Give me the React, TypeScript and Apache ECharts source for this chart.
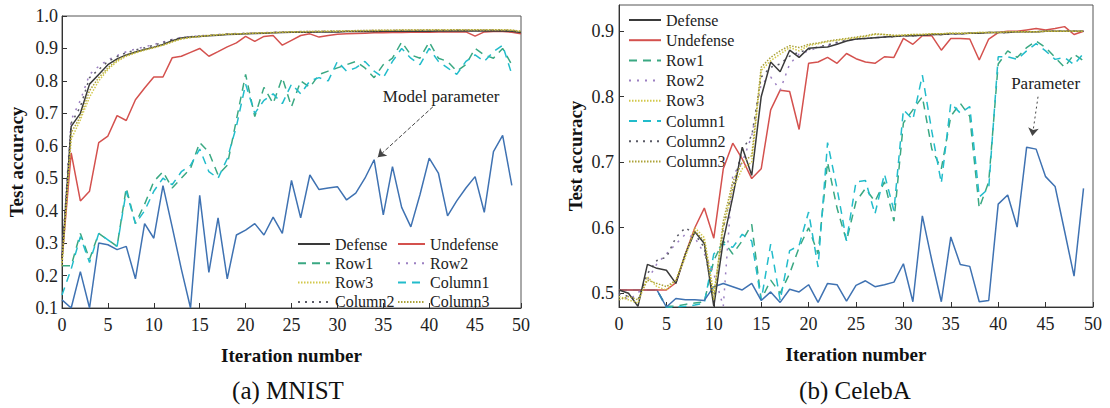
import React, { useEffect, useRef } from "react";
import * as echarts from "echarts";

// ---------- (a) MNIST ----------
const mnistDefense = [
  0.25, 0.66, 0.70, 0.79, 0.82, 0.85, 0.868, 0.88, 0.889, 0.897,
  0.904, 0.912, 0.924, 0.932, 0.935, 0.937, 0.939, 0.941, 0.943, 0.944,
  0.945, 0.946, 0.947, 0.948, 0.949, 0.95, 0.95, 0.95, 0.951, 0.951,
  0.951, 0.952, 0.952, 0.952, 0.952, 0.953, 0.953, 0.953, 0.953, 0.953,
  0.953, 0.954, 0.954, 0.954, 0.954, 0.954, 0.954, 0.954, 0.954, 0.953, 0.949,
];
const mnistUndefense = [
  0.25, 0.578, 0.43, 0.46, 0.61, 0.63, 0.693, 0.678, 0.742, 0.778,
  0.812, 0.812, 0.871, 0.876, 0.888, 0.90, 0.876, 0.89, 0.905, 0.917,
  0.937, 0.922, 0.937, 0.94, 0.91, 0.925, 0.94, 0.945, 0.935, 0.94,
  0.944, 0.945, 0.946, 0.947, 0.948, 0.948, 0.949, 0.949, 0.95, 0.95,
  0.95, 0.951, 0.951, 0.951, 0.951, 0.938, 0.951, 0.952, 0.952, 0.95, 0.945,
];
const mnistRow1 = [
  0.23, 0.23, 0.33, 0.25, 0.33, 0.31, 0.29, 0.47, 0.36, 0.42,
  0.49, 0.52, 0.47, 0.50, 0.53, 0.61, 0.58, 0.51, 0.54, 0.68,
  0.82, 0.69, 0.78, 0.73, 0.81, 0.72, 0.80, 0.78, 0.82, 0.83,
  0.84, 0.85, 0.86, 0.84, 0.81, 0.85, 0.87, 0.92, 0.88, 0.87,
  0.92, 0.87, 0.86, 0.83, 0.85, 0.90, 0.88, 0.87, 0.90, 0.85,
];
const mnistRow2 = [
  0.27, 0.68, 0.74, 0.82, 0.845, 0.865, 0.878, 0.89, 0.898, 0.905,
  0.912, 0.92, 0.928, 0.934, 0.937, 0.939, 0.941, 0.943, 0.945, 0.946,
  0.947, 0.948, 0.949, 0.95, 0.951, 0.951, 0.952, 0.952, 0.953, 0.953,
  0.953, 0.954, 0.954, 0.955, 0.955, 0.955, 0.956, 0.955, 0.956, 0.956,
  0.957, 0.956, 0.956, 0.957, 0.957, 0.956, 0.957, 0.957, 0.956, 0.956, 0.952,
];
const mnistRow3 = [
  0.24, 0.62, 0.68, 0.75, 0.80, 0.835, 0.86, 0.876, 0.886, 0.895,
  0.902, 0.91, 0.92, 0.929, 0.934, 0.937, 0.94, 0.942, 0.944, 0.945,
  0.946, 0.947, 0.948, 0.949, 0.95, 0.951, 0.951, 0.952, 0.952, 0.953,
  0.953, 0.954, 0.954, 0.955, 0.955, 0.956, 0.956, 0.957, 0.957, 0.957,
  0.958, 0.958, 0.958, 0.958, 0.958, 0.958, 0.958, 0.958, 0.958, 0.957, 0.953,
];
const mnistColumn1 = [
  0.14, 0.22, 0.32, 0.24, 0.33, 0.31, 0.29, 0.46, 0.36, 0.40,
  0.46, 0.50, 0.48, 0.52, 0.54, 0.59, 0.52, 0.50, 0.56, 0.66,
  0.79, 0.70, 0.74, 0.76, 0.73, 0.79, 0.76, 0.80, 0.81, 0.80,
  0.86, 0.83, 0.84, 0.86, 0.83, 0.81, 0.86, 0.90, 0.87, 0.85,
  0.90, 0.86, 0.84, 0.82, 0.86, 0.88, 0.86, 0.89, 0.91, 0.82,
];
const mnistColumn2 = [
  0.26, 0.67, 0.72, 0.81, 0.835, 0.86, 0.875, 0.887, 0.895, 0.902,
  0.91, 0.918, 0.927, 0.933, 0.936, 0.938, 0.94, 0.942, 0.944, 0.945,
  0.946, 0.947, 0.948, 0.949, 0.95, 0.95, 0.951, 0.951, 0.952, 0.952,
  0.952, 0.953, 0.953, 0.953, 0.954, 0.954, 0.954, 0.955, 0.955, 0.955,
  0.955, 0.956, 0.955, 0.956, 0.956, 0.955, 0.956, 0.956, 0.955, 0.955, 0.951,
];
const mnistColumn3 = [
  0.23, 0.64, 0.69, 0.77, 0.81, 0.84, 0.864, 0.879, 0.888, 0.896,
  0.903, 0.911, 0.921, 0.93, 0.934, 0.937, 0.94, 0.942, 0.944, 0.945,
  0.946, 0.947, 0.948, 0.949, 0.95, 0.951, 0.952, 0.952, 0.953, 0.953,
  0.954, 0.954, 0.955, 0.955, 0.956, 0.956, 0.956, 0.957, 0.957, 0.957,
  0.957, 0.957, 0.957, 0.958, 0.957, 0.958, 0.957, 0.958, 0.957, 0.956, 0.952,
];
const mnistParam = [
  0.125, 0.10, 0.212, 0.10, 0.30, 0.295, 0.28, 0.29, 0.19, 0.36,
  0.315, 0.477, 0.35, 0.22, 0.10, 0.447, 0.21, 0.378, 0.19, 0.325,
  0.34, 0.36, 0.325, 0.38, 0.33, 0.493, 0.378, 0.51, 0.465, 0.47,
  0.474, 0.433, 0.454, 0.50, 0.557, 0.387, 0.536, 0.41, 0.35, 0.45,
  0.562, 0.516, 0.384, 0.43, 0.47, 0.505, 0.395, 0.582, 0.632, 0.478,
];
const mnistArrow = [[40.4, 0.72], [34.4, 0.565]];
const mnistNoteAt = [41.3, 0.752];

// ---------- (b) CelebA ----------
const celebaDefense = [
  0.505, 0.50, 0.48, 0.544, 0.538, 0.535, 0.515, 0.56, 0.594, 0.576,
  0.48, 0.58, 0.647, 0.723, 0.68, 0.80, 0.853, 0.838, 0.871, 0.86,
  0.874, 0.875, 0.876, 0.88, 0.885, 0.888, 0.889, 0.89, 0.891, 0.892,
  0.893, 0.893, 0.894, 0.895, 0.895, 0.896, 0.896, 0.897, 0.897, 0.898,
  0.898, 0.898, 0.899, 0.899, 0.899, 0.9, 0.9, 0.9, 0.9, 0.9,
];
const celebaUndefense = [
  0.505, 0.505, 0.505, 0.505, 0.505, 0.505, 0.516, 0.56, 0.60, 0.63,
  0.584, 0.69, 0.729, 0.705, 0.675, 0.69, 0.78, 0.81, 0.808, 0.75,
  0.851, 0.853, 0.86, 0.851, 0.866, 0.858, 0.853, 0.851, 0.861, 0.86,
  0.889, 0.88, 0.893, 0.893, 0.871, 0.889, 0.889, 0.888, 0.856, 0.888,
  0.898, 0.9, 0.9, 0.902, 0.904, 0.902, 0.904, 0.907, 0.895, 0.9,
];
const celebaRow1 = [
  0.505, 0.505, 0.505, 0.505, 0.505, 0.48, 0.48, 0.483, 0.485, 0.487,
  0.55, 0.58, 0.56, 0.58, 0.605, 0.49, 0.52, 0.50, 0.53, 0.57,
  0.60, 0.56, 0.70, 0.63, 0.58, 0.64, 0.66, 0.64, 0.67, 0.61,
  0.76, 0.78, 0.80, 0.72, 0.69, 0.77, 0.79, 0.77, 0.63, 0.67,
  0.85, 0.87, 0.86, 0.875, 0.885, 0.875, 0.86, 0.845, 0.865, 0.855,
];
const celebaRow2 = [
  0.50, 0.49, 0.50, 0.52, 0.545, 0.56, 0.575, 0.59, 0.585, 0.56,
  0.53, 0.48, 0.68, 0.70, 0.74, 0.82, 0.83, 0.81, 0.85, 0.865,
  0.87, 0.875, 0.878, 0.882, 0.886, 0.888, 0.889, 0.89, 0.891, 0.892,
  0.893, 0.893, 0.894, 0.895, 0.895, 0.896, 0.896, 0.897, 0.897, 0.898,
  0.898, 0.898, 0.899, 0.899, 0.899, 0.9, 0.9, 0.9, 0.9, 0.9,
];
const celebaRow3 = [
  0.495, 0.49, 0.485, 0.525, 0.51, 0.505, 0.52, 0.555, 0.60, 0.585,
  0.50, 0.60, 0.66, 0.69, 0.70, 0.84, 0.855, 0.865, 0.875, 0.87,
  0.878, 0.881, 0.884, 0.886, 0.888, 0.89, 0.892, 0.895, 0.895, 0.893,
  0.894, 0.895, 0.895, 0.896, 0.896, 0.897, 0.897, 0.897, 0.898, 0.898,
  0.898, 0.899, 0.899, 0.899, 0.899, 0.9, 0.9, 0.9, 0.9, 0.9,
];
const celebaColumn1 = [
  0.505, 0.505, 0.505, 0.505, 0.505, 0.478, 0.479, 0.48, 0.482, 0.485,
  0.56, 0.575, 0.57, 0.59, 0.58, 0.489, 0.575, 0.489, 0.565, 0.573,
  0.624, 0.54, 0.73, 0.66, 0.58, 0.67, 0.672, 0.621, 0.682, 0.626,
  0.78, 0.765, 0.833, 0.747, 0.668, 0.79, 0.775, 0.785, 0.647, 0.66,
  0.861, 0.861, 0.857, 0.87, 0.881, 0.87, 0.857, 0.86, 0.849, 0.866,
];
const celebaColumn2 = [
  0.50, 0.495, 0.49, 0.53, 0.55, 0.555, 0.585, 0.60, 0.59, 0.57,
  0.49, 0.60, 0.66, 0.72, 0.74, 0.83, 0.845, 0.85, 0.862, 0.868,
  0.872, 0.876, 0.879, 0.883, 0.886, 0.888, 0.889, 0.89, 0.891, 0.892,
  0.893, 0.893, 0.894, 0.895, 0.895, 0.896, 0.896, 0.897, 0.897, 0.898,
  0.898, 0.898, 0.899, 0.899, 0.899, 0.9, 0.9, 0.9, 0.9, 0.9,
];
const celebaColumn3 = [
  0.49, 0.495, 0.49, 0.52, 0.515, 0.51, 0.52, 0.56, 0.595, 0.58,
  0.49, 0.61, 0.67, 0.70, 0.71, 0.845, 0.86, 0.87, 0.878, 0.875,
  0.88, 0.882, 0.885, 0.887, 0.889, 0.891, 0.893, 0.896, 0.895, 0.894,
  0.894, 0.895, 0.895, 0.896, 0.896, 0.897, 0.897, 0.897, 0.898, 0.898,
  0.898, 0.899, 0.899, 0.899, 0.899, 0.9, 0.9, 0.9, 0.9, 0.9,
];
const celebaParam = [
  0.505, 0.505, 0.505, 0.505, 0.505, 0.479, 0.492, 0.49, 0.49, 0.489,
  0.51, 0.515, 0.51, 0.505, 0.515, 0.489, 0.502, 0.486, 0.506, 0.502,
  0.513, 0.486, 0.515, 0.513, 0.488, 0.512, 0.519, 0.51, 0.513, 0.517,
  0.545, 0.487, 0.618, 0.55, 0.487, 0.586, 0.544, 0.541, 0.487, 0.489,
  0.636, 0.65, 0.601, 0.723, 0.72, 0.678, 0.663, 0.595, 0.526, 0.66,
];
const celebaArrow = [[44.2, 0.80], [43.6, 0.74]];
const celebaNoteAt = [45.0, 0.82];

const xTitle = "Iteration number";
const yTitle = "Test accuracy";
const celebaYTicks = [0.5, 0.6, 0.7, 0.8, 0.9];

const FONT = "Liberation Serif, Times New Roman, serif";

const STYLES: Record<string, { color: string; type: any; width: number }> = {
  Defense: { color: "#3a3a3a", type: "solid", width: 1.5 },
  Undefense: { color: "#d4514e", type: "solid", width: 1.5 },
  Row1: { color: "#3aa882", type: [8, 6], width: 1.5 },
  Row2: { color: "#9c80c2", type: [2, 6], width: 1.5 },
  Row3: { color: "#d2c84a", type: [1.5, 1.5], width: 1.5 },
  Column1: { color: "#22bccb", type: [8, 6], width: 1.5 },
  Column2: { color: "#5a5a66", type: [2, 5], width: 1.5 },
  Column3: { color: "#aca238", type: [1.5, 1.5], width: 1.5 },
};
const PARAM_COLOR = "#3f72b2";

const pairs = (arr: number[]) => arr.map((v, i) => [i, v]);

function mk(name: string, data: number[], idx: number, z: number) {
  const s = STYLES[name];
  return {
    type: "line",
    name,
    data: pairs(data),
    xAxisIndex: idx,
    yAxisIndex: idx,
    symbol: "none",
    showSymbol: false,
    z,
    color: s.color,
    lineStyle: { color: s.color, type: s.type, width: s.width },
  };
}

function paramSeries(data: number[], idx: number, arrow: number[][], noteAt: number[], note: string, dash: any) {
  return {
    type: "line",
    name: "Parameter" + idx,
    data: pairs(data),
    xAxisIndex: idx,
    yAxisIndex: idx,
    symbol: "none",
    showSymbol: false,
    z: 3,
    color: PARAM_COLOR,
    lineStyle: { color: PARAM_COLOR, width: 1.5 },
    markLine: {
      silent: true,
      symbol: ["none", "arrow"],
      symbolSize: 8,
      label: { show: false },
      lineStyle: { color: "#444", type: dash, width: 1 },
      data: [[{ coord: arrow[0] }, { coord: arrow[1] }]],
    },
    markPoint: {
      silent: true,
      data: [
        {
          coord: noteAt,
          symbol: "rect",
          symbolSize: 1,
          itemStyle: { color: "rgba(0,0,0,0)" },
          label: {
            show: true,
            position: "inside",
            formatter: note,
            color: "#222",
            fontFamily: FONT,
            fontSize: 17,
          },
        },
      ],
    },
  };
}

const axisText = { fontFamily: FONT, fontSize: 18, color: "#222" };
const nameText = { fontFamily: FONT, fontSize: 19, fontWeight: "bold", color: "#111" };

function xAxis(idx: number) {
  return {
    type: "value",
    gridIndex: idx,
    min: 0,
    max: 50,
    interval: 5,
    name: xTitle,
    nameLocation: "middle",
    nameGap: 38,
    nameTextStyle: nameText,
    axisLine: { show: true, lineStyle: { color: "#333", width: 1 } },
    axisTick: { show: true, inside: true, length: 5, lineStyle: { color: "#333" } },
    axisLabel: { ...axisText, margin: 8 },
    splitLine: { show: false },
  };
}

export default function App() {
  const ref = useRef<HTMLDivElement>(null);
  useEffect(() => {
    if (!ref.current) return;
    const chart = echarts.init(ref.current, null, { renderer: "svg" });
    const legendText = { fontFamily: FONT, fontSize: 16, color: "#222", lineHeight: 16 };
    const legendCommon = {
      orient: "vertical",
      itemHeight: 10,
      selectedMode: false,
      textStyle: legendText,
      itemStyle: { opacity: 0 },
    };
    const option: any = {
      animation: false,
      backgroundColor: "#fff",
      textStyle: { fontFamily: FONT },
      grid: [
        { left: 62, top: 16, width: 459, height: 292, show: true, borderColor: "#555", borderWidth: 1, backgroundColor: "transparent" },
        { left: 619, top: 5, width: 474, height: 302, show: true, borderColor: "#555", borderWidth: 1, backgroundColor: "transparent" },
      ],
      xAxis: [xAxis(0), xAxis(1)],
      yAxis: [
        {
          type: "value",
          gridIndex: 0,
          min: 0.1,
          max: 1.0,
          interval: 0.1,
          name: yTitle,
          nameLocation: "middle",
          nameGap: 36,
          nameTextStyle: nameText,
          axisLine: { show: true, lineStyle: { color: "#333", width: 1 } },
          axisTick: { show: true, inside: true, length: 5, lineStyle: { color: "#333" } },
          axisLabel: { ...axisText, margin: 4, formatter: (v: number) => v.toFixed(1) },
          splitLine: { show: false },
        },
        {
          type: "value",
          gridIndex: 1,
          min: 0.479,
          max: 0.94,
          name: yTitle,
          nameLocation: "middle",
          nameGap: 34,
          nameTextStyle: nameText,
          axisLine: { show: true, lineStyle: { color: "#333", width: 1 } },
          axisTick: { show: true, inside: true, length: 5, lineStyle: { color: "#333" }, customValues: celebaYTicks },
          axisLabel: { ...axisText, margin: 5, customValues: celebaYTicks, formatter: (v: number) => v.toFixed(1) },
          splitLine: { show: false },
        },
      ],
      legend: [
        {
          ...legendCommon,
          left: 292, top: 231, itemWidth: 32, itemGap: 3.3,
          data: ["Defense", "Row1", "Row3", "Column2"],
        },
        {
          ...legendCommon,
          left: 392, top: 231, itemWidth: 27, itemGap: 3.3,
          data: ["Undefense", "Row2", "Column1", "Column3"],
        },
        {
          ...legendCommon,
          left: 623, top: 7, itemWidth: 32, itemGap: 4.2,
          data: ["Defense", "Undefense", "Row1", "Row2", "Row3", "Column1", "Column2", "Column3"],
        },
      ],
      graphic: [
        { type: "text", x: 288, y: 390, style: { text: "(a) MNIST", fontFamily: FONT, fontSize: 25, fill: "#111", textAlign: "center", textVerticalAlign: "middle" } },
        { type: "text", x: 855, y: 390, style: { text: "(b) CelebA", fontFamily: FONT, fontSize: 25, fill: "#111", textAlign: "center", textVerticalAlign: "middle" } },
      ],
      series: [
        mk("Row1", mnistRow1, 0, 2),
        mk("Column1", mnistColumn1, 0, 2),
        paramSeries(mnistParam, 0, mnistArrow, mnistNoteAt, "Model parameter", "dashed"),
        mk("Undefense", mnistUndefense, 0, 4),
        mk("Row2", mnistRow2, 0, 5),
        mk("Column2", mnistColumn2, 0, 5),
        mk("Defense", mnistDefense, 0, 6),
        mk("Row3", mnistRow3, 0, 7),
        mk("Column3", mnistColumn3, 0, 7),

        mk("Row1", celebaRow1, 1, 2),
        mk("Column1", celebaColumn1, 1, 2),
        paramSeries(celebaParam, 1, celebaArrow, celebaNoteAt, "Parameter", [2, 3]),
        mk("Undefense", celebaUndefense, 1, 4),
        mk("Row2", celebaRow2, 1, 5),
        mk("Column2", celebaColumn2, 1, 5),
        mk("Defense", celebaDefense, 1, 6),
        mk("Row3", celebaRow3, 1, 7),
        mk("Column3", celebaColumn3, 1, 7),
      ],
    };
    chart.setOption(option);
    return () => chart.dispose();
  }, []);
  return (
    <div
      ref={ref}
      style={{ position: "absolute", left: 0, top: 0, width: 1110, height: 408, background: "#fff" }}
    />
  );
}
